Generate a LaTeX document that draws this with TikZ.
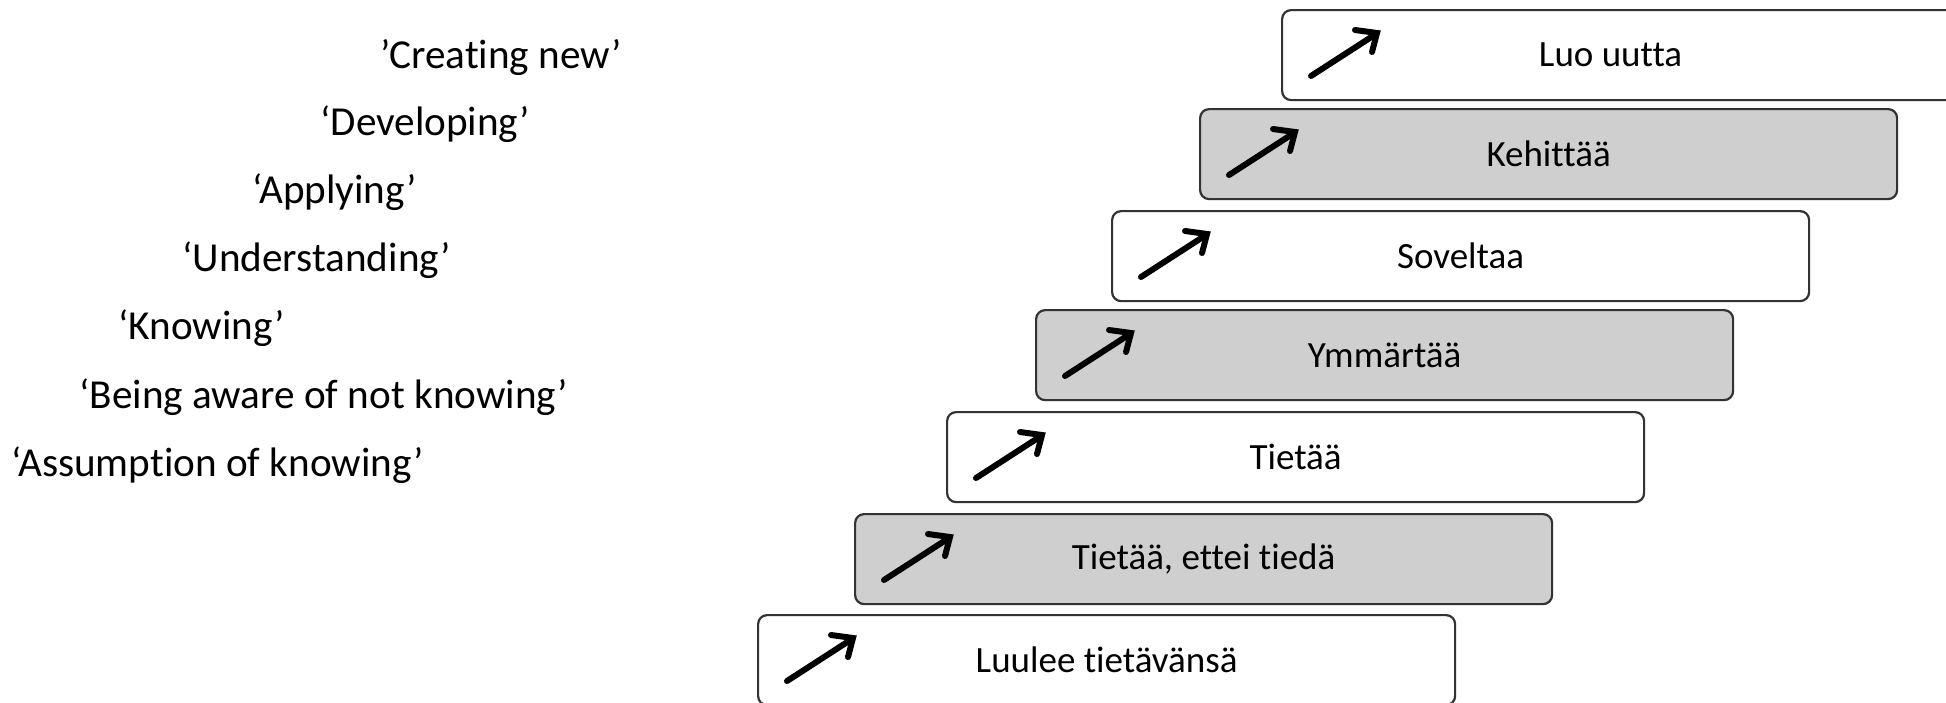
\documentclass[tikz,border=0pt]{standalone}
\usepackage{fontspec}
\setmainfont{Carlito}[Ligatures=NoCommon]
\begin{document}
\begin{tikzpicture}[x=0.5pt,y=-0.5pt,
  stairbox/.style={draw=black!80, line width=1.1pt, rounded corners=4.5pt,
    minimum width=348.5pt, minimum height=45pt, anchor=north west,
    font=\fontsize{18.5pt}{22pt}\selectfont, inner sep=0pt},
  whitebox/.style={stairbox, fill=white},
  greybox/.style={stairbox, fill=black!19},
  iconarrow/.style={line width=3pt, black},
  engtext/.style={anchor=base west, inner sep=0pt, font=\fontsize{20.6pt}{24pt}\selectfont}
]
\useasboundingbox (0,0) rectangle (1946,702);
\begin{scope}
\clip (0,0) rectangle (1946,702);
\node[whitebox] (s1) at (1281,9) {\hspace*{-20pt}Luo uutta};
\node[greybox] (s2) at (1199,108) {Kehittää};
\node[whitebox] (s3) at (1111,210) {Soveltaa};
\node[greybox] (s4) at (1035,309) {Ymmärtää};
\node[whitebox] (s5) at (946,411) {Tietää};
\node[greybox] (s6) at (854,513) {Tietää, ettei tiedä};
\node[whitebox] (s7) at (757,614) {Luulee tietävänsä};
\foreach \n in {s1,s2,s3,s4,s5,s6,s7}{
  \draw[iconarrow, line cap=round] ([shift={(30,67)}]\n.north west) -- ([shift={(95,25)}]\n.north west);
  \draw[iconarrow, line cap=round, line join=miter] ([shift={(74,21)}]\n.north west) -- ([shift={(96,24)}]\n.north west) -- ([shift={(91,43)}]\n.north west);
}
\end{scope}
\node[engtext] (e1) at (380,68) {’Creating new’};
\node[engtext] (e2) at (320,135) {‘Developing’};
\node[engtext] (e3) at (252,203) {‘Applying’};
\node[engtext] (e4) at (182,271) {‘Understanding’};
\node[engtext] (e5) at (118,339) {‘Knowing’};
\node[engtext] (e6) at (79,408) {‘Being aware of not knowing’};
\node[engtext] (e7) at (11,476) {‘Assumption of knowing’};
\end{tikzpicture}
\end{document}
